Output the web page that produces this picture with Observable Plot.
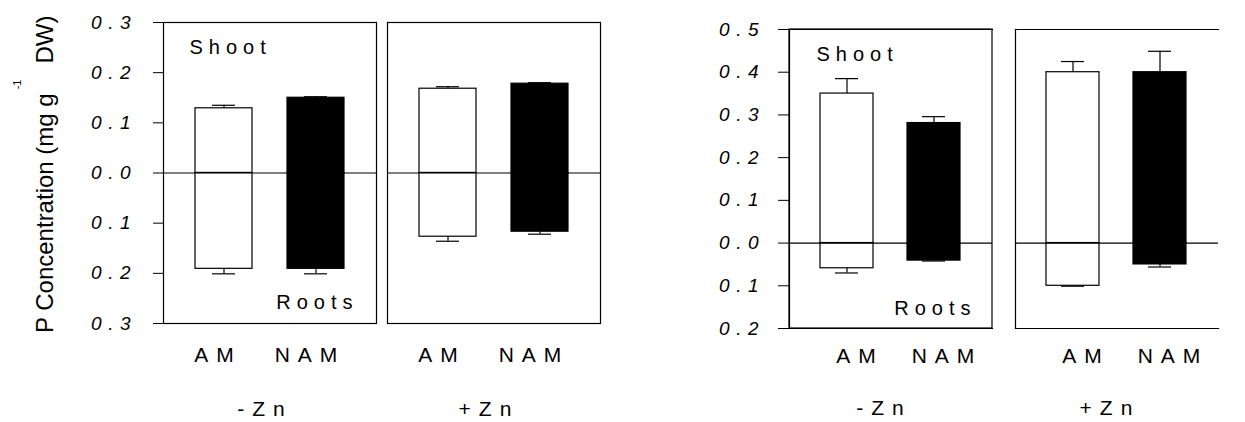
<!DOCTYPE html>
<html><head><meta charset="utf-8">
<script src="https://cdn.jsdelivr.net/npm/d3@7"></script>
<script src="https://cdn.jsdelivr.net/npm/@observablehq/plot@0.6"></script>
<style>
html,body{margin:0;padding:0;background:#fff;overflow:hidden;}
#wrap{position:relative;width:1245px;height:422px;overflow:hidden;background:#fff;}
#wrap > svg{position:absolute;top:0;}
</style></head><body><div id="wrap"></div>
<script>
// ---- data ----
const zn = ["-Zn", "-Zn", "+Zn", "+Zn"];
const type = ["AM", "NAM", "AM", "NAM"];
const groups = ["-Zn", "+Zn"];
const types = ["AM", "NAM"];

// left chart
const leftShoot    = [0.129, 0.150, 0.168, 0.178];
const leftShootErr = [0.006, 0.002, 0.004, 0.002];
const leftRoot     = [0.191, 0.191, 0.127, 0.117];
const leftRootErr  = [0.010, 0.010, 0.009, 0.005];
// right chart
const rightShoot    = [0.350, 0.281, 0.400, 0.400];
const rightShootErr = [0.035, 0.015, 0.025, 0.049];
const rightRoot     = [0.059, 0.041, 0.100, 0.050];
const rightRootErr  = [0.011, 0.001, 0.001, 0.006];

const leftTicks  = [-0.3, -0.2, -0.1, 0, 0.1, 0.2, 0.3];
const rightTicks = [-0.2, -0.1, 0, 0.1, 0.2, 0.3, 0.4, 0.5];
const shootLabel = "Shoot";
const rootLabel = "Roots";
const yTitleMain = "P Concentration (mg g";
const yTitleSup = "-1";
const yTitleEnd = "DW)";

const FONT = "Liberation Sans, Arial, Helvetica, sans-serif";

function rows(shoot, shootErr, root, rootErr) {
  return zn.map((z, i) => ({
    zn: z, type: type[i],
    shoot: shoot[i], shootEnd: shoot[i] + shootErr[i],
    root: -root[i], rootEnd: -(root[i] + rootErr[i])
  }));
}

function chart(o) {
  const data = rows(...o.values);
  const frameMarks = o.openRight
    ? [Plot.rect([{zn: groups[0]}], {fx: "zn", fill: "none", stroke: "black", strokeWidth: 1.2}),
       Plot.frame({anchor: "top", strokeWidth: 1.2}), Plot.frame({anchor: "bottom", strokeWidth: 1.2}), Plot.frame({anchor: "left", strokeWidth: 1.2})]
    : [Plot.frame({strokeWidth: 1.2})];
  const svg = Plot.plot({
    width: o.width, height: 422,
    marginLeft: o.marginLeft, marginRight: o.marginRight,
    marginTop: o.marginTop, marginBottom: o.marginBottom,
    style: {fontFamily: FONT, fontSize: "20px", color: "black", background: "transparent", maxWidth: "none", overflow: "visible"},
    fx: {domain: groups, paddingInner: o.fxPad, paddingOuter: 0},
    x: {domain: types, paddingInner: o.xPadIn, paddingOuter: o.xPadOut},
    y: {domain: o.domain},
    color: {domain: types, range: ["white", "black"]},
    marks: [
      Plot.barY(data, {fx: "zn", x: "type", y1: 0, y2: "shoot", fill: "type", stroke: "black", strokeWidth: 1.2}),
      Plot.barY(data, {fx: "zn", x: "type", y1: 0, y2: "root", fill: "type", stroke: "black", strokeWidth: 1.2}),
      Plot.ruleX(data, {fx: "zn", x: "type", y1: "shoot", y2: "shootEnd", stroke: "black", strokeWidth: 1.2}),
      Plot.tickY(data, {fx: "zn", x: "type", y: "shootEnd", insetLeft: o.cap, insetRight: o.cap, stroke: "black", strokeWidth: 1.2}),
      Plot.ruleX(data, {fx: "zn", x: "type", y1: "root", y2: "rootEnd", stroke: "black", strokeWidth: 1.2}),
      Plot.tickY(data, {fx: "zn", x: "type", y: "rootEnd", insetLeft: o.cap, insetRight: o.cap, stroke: "black", strokeWidth: 1.2}),
      Plot.ruleY([0], {stroke: "black", strokeWidth: 1.2}),
      ...frameMarks,
      Plot.text([{zn: groups[0], t: shootLabel}], {fx: "zn", text: "t", frameAnchor: "top-left", dx: o.shootDx, dy: o.shootDy, fontSize: 20, fill: "black"}),
      Plot.text([{zn: groups[0], t: rootLabel}], {fx: "zn", text: "t", frameAnchor: "bottom-right", dx: o.rootDx, dy: o.rootDy, fontSize: 20, fill: "black"}),
      Plot.axisY({ticks: o.ticks, tickFormat: d => Math.abs(d).toFixed(1), tickSize: o.tickSize, tickPadding: o.tickPadding, fontSize: 19, fontStyle: "italic", label: null}),
      Plot.axisX({tickSize: 0, tickPadding: o.xLabPad, fontSize: 21, dx: o.xDx, label: null}),
      Plot.axisFx({anchor: "bottom", tickSize: 0, tickPadding: o.fxLabPad, fontSize: 21, dx: o.fxDx, label: null})
    ]
  });
  svg.style.left = o.left + "px";
  svg.style.letterSpacing = "8px";
  d3.select(svg).selectAll('g[aria-label="y-axis tick label"]').style("letter-spacing", "6.5px");
  d3.select(svg).selectAll('g[aria-label="text"]').style("letter-spacing", "6px");
  return svg;
}

const wrap = document.getElementById("wrap");

wrap.appendChild(chart({
  values: [leftShoot, leftShootErr, leftRoot, leftRootErr],
  left: 0, width: 603, marginLeft: 163, marginRight: 2, marginTop: 22, marginBottom: 99,
  fxPad: 0.049, xPadIn: 0.385, xPadOut: 0.345, cap: 17,
  domain: [-0.3, 0.3], ticks: leftTicks, tickSize: 10, tickPadding: 16.5,
  shootDx: 26, shootDy: 17, rootDx: -18, rootDy: -15,
  xLabPad: 24, xDx: -6, fxLabPad: 78, fxDx: -5, openRight: false
}));

wrap.appendChild(chart({
  values: [rightShoot, rightShootErr, rightRoot, rightRootErr],
  left: 640, width: 579, marginLeft: 149, marginRight: 1, marginTop: 29, marginBottom: 94,
  fxPad: 0.102, xPadIn: 0.39, xPadOut: 0.356, cap: 15,
  domain: [-0.2, 0.5], ticks: rightTicks, tickSize: 11, tickPadding: 13.5,
  shootDx: 27, shootDy: 17, rootDx: -16, rootDy: -14,
  xLabPad: 20, xDx: 13, fxLabPad: 72, fxDx: -7, openRight: true
}));

// y-axis title (left chart)
const t = d3.select(wrap).append("svg")
  .attr("width", 80).attr("height", 422).style("left", "0px")
  .append("text")
  .attr("transform", "translate(53,333) rotate(-90)")
  .attr("font-family", FONT).attr("font-size", 24).attr("fill", "black");
t.append("tspan").text(yTitleMain);
t.append("tspan").attr("font-size", 11).attr("dx", 4).attr("dy", -32).text(yTitleSup);
t.append("tspan").attr("dx", 16).attr("dy", 32).text(yTitleEnd);
</script></body></html>
